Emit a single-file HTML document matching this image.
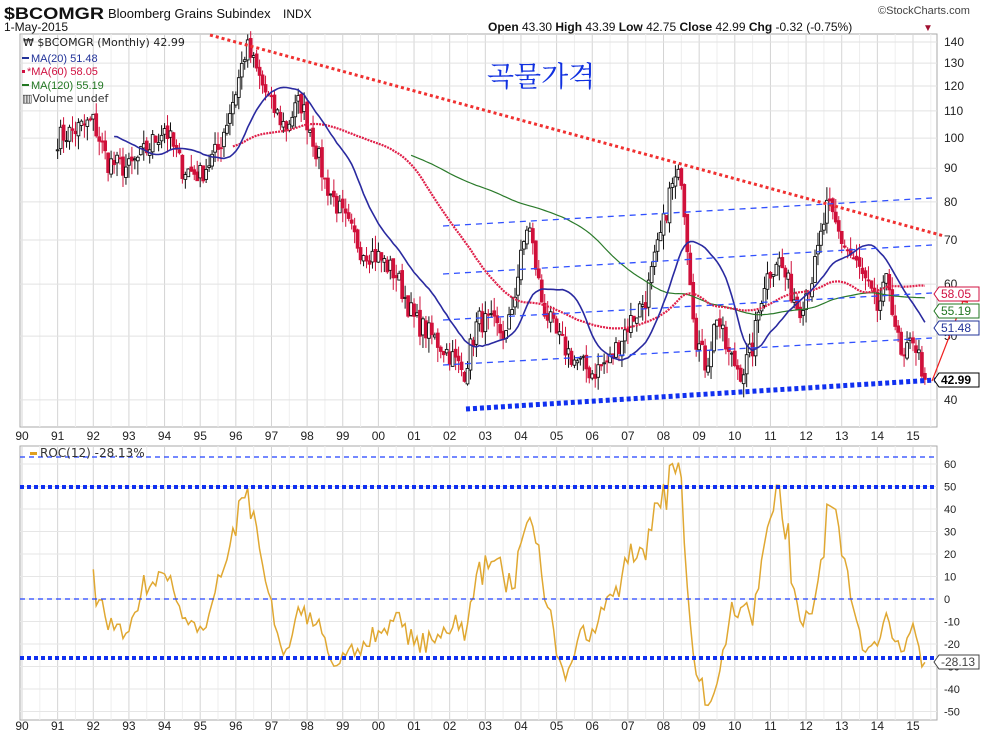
<!DOCTYPE html>
<html><head><meta charset="utf-8">
<style>
body{margin:0;background:#fff;width:982px;height:736px;overflow:hidden;font-family:"Liberation Sans",sans-serif}
svg{display:block}
</style></head><body>
<svg id="c" width="982" height="736" xmlns="http://www.w3.org/2000/svg" font-family="Liberation Sans, sans-serif">
<text x="4" y="19" font-size="17" font-weight="bold" fill="#111" textLength="100" lengthAdjust="spacingAndGlyphs">$BCOMGR</text>
<text x="108" y="18" font-size="13" fill="#111">Bloomberg Grains Subindex</text>
<text x="283" y="18" font-size="12" fill="#111">INDX</text>
<text x="878" y="14" font-size="11" fill="#444">©StockCharts.com</text>
<text x="4" y="31" font-size="12" fill="#111">1-May-2015</text>
<text x="488" y="31" font-size="12" fill="#111"><tspan font-weight="bold">Open</tspan> 43.30 <tspan font-weight="bold">High</tspan> 43.39 <tspan font-weight="bold">Low</tspan> 42.75 <tspan font-weight="bold">Close</tspan> 42.99 <tspan font-weight="bold">Chg</tspan> -0.32 (-0.75%)</text>
<text x="923" y="31" font-size="10" fill="#a01030">▼</text>
<g id="grid"></g>
<g id="data"></g>
<g id="over"></g>
<text x="487" y="86" font-size="28" fill="#1030e0" font-family="Noto Serif CJK SC, NanumGothic, serif">곡물가격</text>
<g font-size="11">
<text x="23" y="46" fill="#222" font-family="DejaVu Sans, sans-serif" font-size="11">₩ $BCOMGR (Monthly) 42.99</text>
<rect x="22" y="57" width="7" height="2" fill="#223399"/><text x="31" y="62" fill="#223399">MA(20) 51.48</text>
<rect x="22" y="70" width="3" height="3" fill="#d01040"/><text x="27" y="75" fill="#d01040">*MA(60) 58.05</text>
<rect x="22" y="84" width="7" height="2" fill="#227722"/><text x="31" y="89" fill="#227722">MA(120) 55.19</text>
<text x="22" y="102" fill="#333" font-family="DejaVu Sans, sans-serif">▥Volume undef</text>
</g>
<rect x="30" y="452" width="7" height="3" fill="#e0a020"/>
<text x="40" y="457" font-size="12" fill="#333" font-family="DejaVu Sans, sans-serif">ROC(12) -28.13%</text>
</svg>
<script>
var L=20,R=937,T1=34,B1=427,T2=446,B2=720;
function X(t){return 22+(t-1990)*35.64;}
function Y(p){return 42+(Math.log(140)-Math.log(p))*285.7;}
function Y2(v){return 599-v*2.25;}
var g=document.getElementById('grid'),d=document.getElementById('data'),o=document.getElementById('over');
var s='';
s+='<rect x="'+L+'" y="'+T1+'" width="'+(R-L)+'" height="'+(B1-T1)+'" fill="#fff" stroke="#aaa"/>';
s+='<rect x="'+L+'" y="'+T2+'" width="'+(R-L)+'" height="'+(B2-T2)+'" fill="#fff" stroke="#aaa"/>';
for(var y=1990;y<=2015;y++){for(var h=0;h<2;h++){var x=X(y+h*0.5);if(x<L||x>R)continue;
 var c=h?'#eeeeee':'#d4d4d4';
 s+='<line x1="'+x+'" y1="'+T1+'" x2="'+x+'" y2="'+B1+'" stroke="'+c+'"/>';
 s+='<line x1="'+x+'" y1="'+T2+'" x2="'+x+'" y2="'+B2+'" stroke="'+c+'"/>';}
 var lab=('0'+(y%100)).slice(-2);
 s+='<text x="'+X(y)+'" y="440" font-size="12" text-anchor="middle" fill="#222">'+lab+'</text>';
 s+='<text x="'+X(y)+'" y="730" font-size="12" text-anchor="middle" fill="#222">'+lab+'</text>';}
[40,50,60,70,80,90,100,110,120,130,140].forEach(function(p){var yy=Y(p);
 s+='<line x1="'+L+'" y1="'+yy+'" x2="'+R+'" y2="'+yy+'" stroke="#e2e2e2"/>';
 s+='<text x="944" y="'+(yy+4)+'" font-size="12" fill="#222">'+p+'</text>';});
for(var v=-50;v<=60;v+=10){var yy=Y2(v);
 s+='<line x1="'+L+'" y1="'+yy+'" x2="'+R+'" y2="'+yy+'" stroke="#e6e6e6"/>';
 s+='<text x="944" y="'+(yy+4)+'" font-size="11" fill="#222">'+v+'</text>';}
g.innerHTML=s;
var K=[[1991,100],[1991.5,103],[1992,106],[1992.4,92],[1993,90],[1993.5,96],[1994,104],[1994.5,90],[1995,88],[1995.5,96],[1996,118],[1996.3,138],[1996.7,122],[1997,112],[1997.4,104],[1997.8,114],[1998.1,103],[1998.5,86],[1999,76],[1999.5,68],[2000,66],[2000.5,62],[2001,53],[2001.5,50],[2002,47],[2002.4,44],[2002.8,53],[2003.2,52],[2003.6,50],[2004.2,75],[2004.6,56],[2005,50],[2005.5,46],[2006,44],[2006.5,46],[2007,52],[2007.5,57],[2008,74],[2008.2,84],[2008.5,88],[2008.9,50],[2009.2,45],[2009.5,54],[2009.8,47],[2010.2,44],[2010.5,48],[2010.8,60],[2011.2,66],[2011.5,60],[2011.8,55],[2012.2,62],[2012.6,79],[2013,70],[2013.5,63],[2014,55],[2014.3,61],[2014.7,45],[2015,50],[2015.35,43]];
function interp(t){for(var i=0;i<K.length-1;i++){if(t<=K[i+1][0]){var f=(t-K[i][0])/(K[i+1][0]-K[i][0]);return Math.exp(Math.log(K[i][1])*(1-f)+Math.log(K[i+1][1])*f);}}return K[K.length-1][1];}
var seed=7;function rnd(){seed=(seed*16807)%2147483647;return seed/2147483647;}
var cl=[],ts=[];
for(var m=0;m<=292;m++){var t=1991+m/12;var p=interp(t)*(1+(rnd()-0.5)*0.08);if(t>=2015.3)p=42.99;cl.push(p);ts.push(t);}
var ds='';
for(var i=0;i<cl.length;i++){var c=cl[i],op=i?cl[i-1]*(1+(rnd()-0.5)*0.02):c;var hi=Math.max(c,op)*(1+rnd()*0.05),lo=Math.min(c,op)*(1-rnd()*0.05);
 var x=X(ts[i]),col=c<op?'#d0103a':'#111';
 ds+='<line x1="'+x+'" y1="'+Y(hi)+'" x2="'+x+'" y2="'+Y(lo)+'" stroke="'+col+'"/>';
 var yt=Y(Math.max(c,op)),yb=Y(Math.min(c,op));
 ds+='<rect x="'+(x-1.4)+'" y="'+yt+'" width="2.8" height="'+Math.max(1,yb-yt)+'" fill="'+(c<op?col:'#fff')+'" stroke="'+col+'" stroke-width="0.9"/>';}
function ma(n,col,w,dash){var pts=[];for(var i=n-1;i<cl.length;i++){var sm=0;for(var j=i-n+1;j<=i;j++)sm+=cl[j];pts.push(X(ts[i]).toFixed(1)+','+Y(sm/n).toFixed(1));}
 return '<polyline points="'+pts.join(' ')+'" fill="none" stroke="'+col+'" stroke-width="'+w+'"'+(dash?' stroke-dasharray="'+dash+'"':'')+'/>';}
ds+=ma(120,'#2a7a2a',1.2);ds+=ma(60,'#e0204a',2.2,'2 1');ds+=ma(20,'#2a2aa0',1.6);
var rp=[];for(var i=12;i<cl.length;i++){var r=(cl[i]/cl[i-12]-1)*100;if(i==cl.length-1)r=-28.13;rp.push(X(ts[i]).toFixed(1)+','+Y2(r).toFixed(1));}
ds+='<polyline points="'+rp.join(' ')+'" fill="none" stroke="#e0a832" stroke-width="1.5"/>';
d.innerHTML=ds;
var os='';
os+='<line x1="210" y1="35" x2="944" y2="236" stroke="#f03030" stroke-width="3" stroke-dasharray="3 3"/>';
[[226,198],[274,245],[320,293],[365,338]].forEach(function(a){os+='<line x1="443" y1="'+a[0]+'" x2="932" y2="'+a[1]+'" stroke="#3050ff" stroke-width="1.3" stroke-dasharray="6 5"/>';});
os+='<line x1="466" y1="409" x2="935" y2="380" stroke="#1030f0" stroke-width="5" stroke-dasharray="4 3"/>';
os+='<line x1="20" y1="457" x2="937" y2="457" stroke="#2040ff" stroke-width="1.2" stroke-dasharray="5 4"/>';
os+='<line x1="20" y1="599" x2="937" y2="599" stroke="#2040ff" stroke-width="1.2" stroke-dasharray="5 4"/>';
os+='<line x1="20" y1="487" x2="937" y2="487" stroke="#1030f0" stroke-width="4" stroke-dasharray="4 3"/>';
os+='<line x1="20" y1="658" x2="937" y2="658" stroke="#1030f0" stroke-width="4" stroke-dasharray="4 3"/>';
os+='<line x1="932" y1="381" x2="965" y2="296" stroke="#f02020" stroke-width="1.2"/><polygon points="967,289 958,301 968,303" fill="#f02020"/>';
function box(y,t,col,b){return '<path d="M934 '+y+' l5 -7 h40 v14 h-40 z" fill="#fff" stroke="'+col+'"/><text x="941" y="'+(y+4)+'" font-size="12" fill="'+col+'"'+(b?' font-weight="bold"':'')+'>'+t+'</text>';}
os+=box(294,'58.05','#d01040');os+=box(311,'55.19','#227722');os+=box(328,'51.48','#223399');os+=box(380,'42.99','#000',1);os+=box(662,'-28.13','#444');
o.innerHTML=os;
</script>
</body></html>
